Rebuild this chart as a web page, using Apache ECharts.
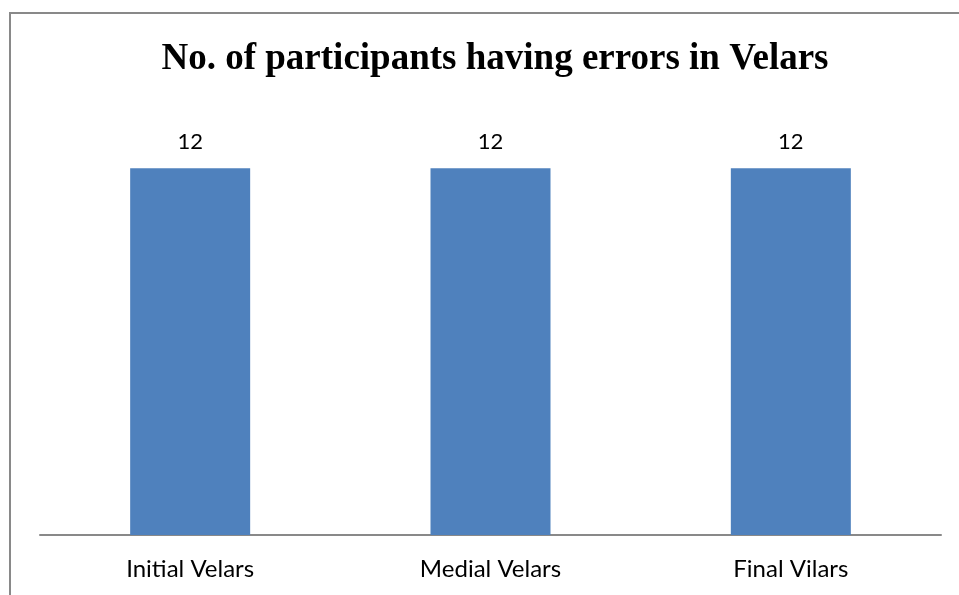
<!DOCTYPE html>
<html>
<head>
<meta charset="utf-8">
<script src="https://cdn.jsdelivr.net/npm/echarts@6/dist/echarts.min.js"></script>
<style>html,body{margin:0;padding:0;background:#fff;}#c{width:959px;height:595px;}</style>
</head>
<body>
<div id="c"></div>
<script>
const titleText = 'No. of participants having errors in Velars';
const categories = ['Initial Velars', 'Medial Velars', 'Final Vilars'];
const values = [12, 12, 12];

const chart = echarts.init(document.getElementById('c'), null, {renderer: 'canvas'});
chart.setOption({
  backgroundColor: '#ffffff',
  animation: false,
  title: {
    text: titleText,
    left: 490, top: 36, textAlign: 'center',
    textStyle: {fontFamily: 'Liberation Serif', fontWeight: 'bold', fontSize: 37, color: '#000'}
  },
  graphic: [
    {type: 'line', shape: {x1: 10, y1: 12, x2: 10, y2: 595}, style: {stroke: '#898989', lineWidth: 2}},
    {type: 'line', shape: {x1: 9, y1: 13, x2: 959, y2: 13}, style: {stroke: '#898989', lineWidth: 2}}
  ],
  grid: {left: 40, right: 18, top: 107, bottom: 60},
  xAxis: {
    type: 'category', data: categories,
    axisLine: {lineStyle: {color: '#898989', width: 2}},
    axisTick: {show: false},
    axisLabel: {color: '#000', fontFamily: 'Lato', fontSize: 24, margin: 22}
  },
  yAxis: {
    type: 'value', min: 0, max: 14, interval: 2,
    show: false, splitLine: {show: false}
  },
  series: [{
    type: 'bar', data: values, barWidth: 120,
    itemStyle: {color: '#4f81bd'},
    label: {show: true, position: 'top', distance: 15, color: '#000', fontFamily: 'Lato', fontSize: 22}
  }]
});
</script>
</body>
</html>
